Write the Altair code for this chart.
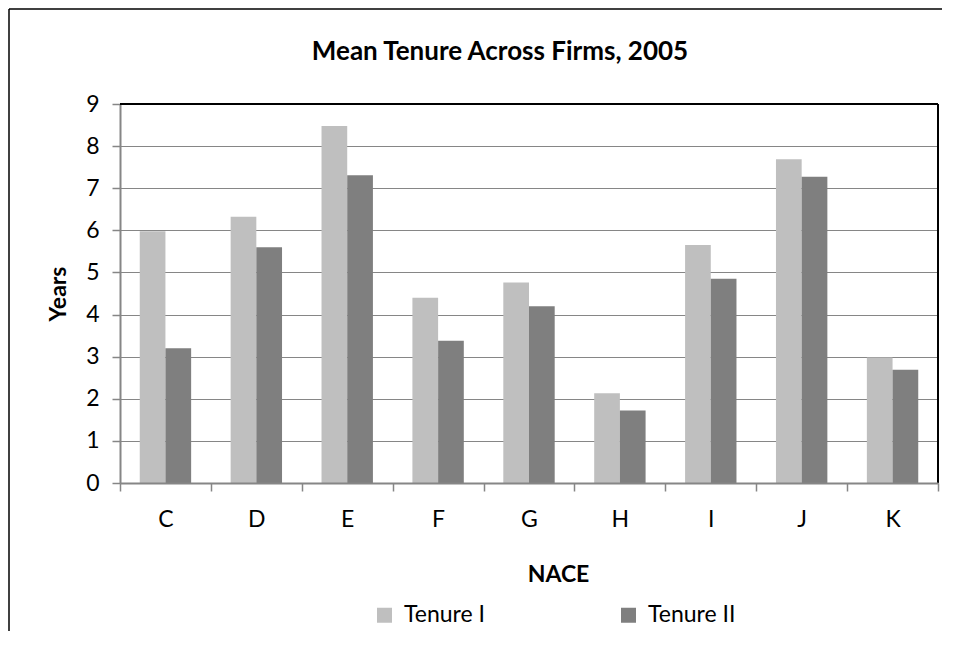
import altair as alt
import pandas as pd

categories = ["C", "D", "E", "F", "G", "H", "I", "J", "K"]
tenure_1 = [5.98, 6.32, 8.48, 4.40, 4.76, 2.13, 5.65, 7.69, 2.98]
tenure_2 = [3.20, 5.60, 7.31, 3.38, 4.20, 1.72, 4.85, 7.27, 2.69]
series = ["Tenure I", "Tenure II"]
series_colors = ["#BFBFBF", "#7F7F7F"]
y_ticks = list(range(0, 10))

rows = []
for c, a, b in zip(categories, tenure_1, tenure_2):
    rows.append({"NACE": c, "Series": series[0], "Years": a})
    rows.append({"NACE": c, "Series": series[1], "Years": b})
df = pd.DataFrame(rows)

FONT = "Lato"
W, H = 818, 379
AXIS_GRAY = "#868686"

bars = alt.Chart(df).mark_bar().encode(
    x=alt.X(
        "NACE:N",
        sort=categories,
        scale=alt.Scale(paddingInner=0, paddingOuter=0),
        axis=alt.Axis(
            title="NACE",
            labelAngle=0,
            tickBand="extent",
            tickSize=8,
            tickColor=AXIS_GRAY,
            tickWidth=1.5,
            domainColor=AXIS_GRAY,
            domainWidth=2,
            labelFont=FONT,
            labelFontSize=23,
            labelColor="black",
            labelBaseline="alphabetic",
            labelPadding=35,
            titleFont=FONT,
            titleFontSize=23,
            titleFontWeight="bold",
            titleColor="black",
            titleX=438,
            titleY=98,
            titleAlign="center",
            titleBaseline="alphabetic",
            zindex=1,
        ),
    ),
    xOffset=alt.XOffset(
        "Series:N",
        sort=series,
        scale=alt.Scale(paddingInner=0, paddingOuter=0.7685),
    ),
    y=alt.Y(
        "Years:Q",
        scale=alt.Scale(domain=[0, 9], nice=False),
        axis=alt.Axis(
            values=y_ticks,
            title="Years",
            grid=True,
            gridColor=AXIS_GRAY,
            gridWidth=1,
            tickSize=8,
            tickColor=AXIS_GRAY,
            tickWidth=1.5,
            domainColor=AXIS_GRAY,
            domainWidth=2,
            labelFont=FONT,
            labelFontSize=23,
            labelColor="black",
            labelPadding=13,
            titleFont=FONT,
            titleFontSize=23,
            titleFontWeight="bold",
            titleColor="black",
            titleAngle=270,
            titleX=-55,
            titleY=H / 2,
            titleAlign="center",
            titleBaseline="alphabetic",
            zindex=0,
        ),
    ),
    color=alt.Color(
        "Series:N",
        sort=series,
        scale=alt.Scale(domain=series, range=series_colors),
        legend=alt.Legend(
            title=None,
            orient="none",
            legendX=253,
            legendY=499.5,
            direction="horizontal",
            symbolType="square",
            symbolSize=225,
            symbolStrokeWidth=0,
            labelFont=FONT,
            labelFontSize=23,
            labelColor="black",
            labelOffset=8,
            columnPadding=132,
        ),
    ),
)

border_df = pd.DataFrame({"k": [0]})
left_border = alt.Chart(border_df).mark_rule(color="black", strokeWidth=1.5).encode(
    x=alt.value(-111), y=alt.value(-95), y2=alt.value(H + 155)
)
top_border = alt.Chart(border_df).mark_rule(color="black", strokeWidth=1.5).encode(
    x=alt.value(-111), x2=alt.value(W + 4), y=alt.value(-95)
)
plot_top = alt.Chart(border_df).mark_rule(color="black", strokeWidth=2).encode(
    x=alt.value(0), x2=alt.value(W), y=alt.value(0)
)
plot_right = alt.Chart(border_df).mark_rule(color="black", strokeWidth=2).encode(
    x=alt.value(W), y=alt.value(0), y2=alt.value(H)
)

chart = (
    alt.layer(bars, plot_top, plot_right, left_border, top_border)
    .properties(
        width=W,
        height=H,
        autosize=alt.AutoSizeParams(type="none"),
        padding={"left": 112, "top": 96, "right": 4, "bottom": 148},
        title=alt.TitleParams(
            "Mean Tenure Across Firms, 2005",
            font=FONT,
            fontSize=26,
            fontWeight="bold",
            color="black",
            anchor="middle",
            frame="group",
            dx=-29,
            dy=78,
            baseline="alphabetic",
            offset=0,
        ),
    )
    .configure_view(stroke=None)
    .configure(background="white")
)

chart.save("out.html", embed_options={"renderer": "svg", "actions": False})
